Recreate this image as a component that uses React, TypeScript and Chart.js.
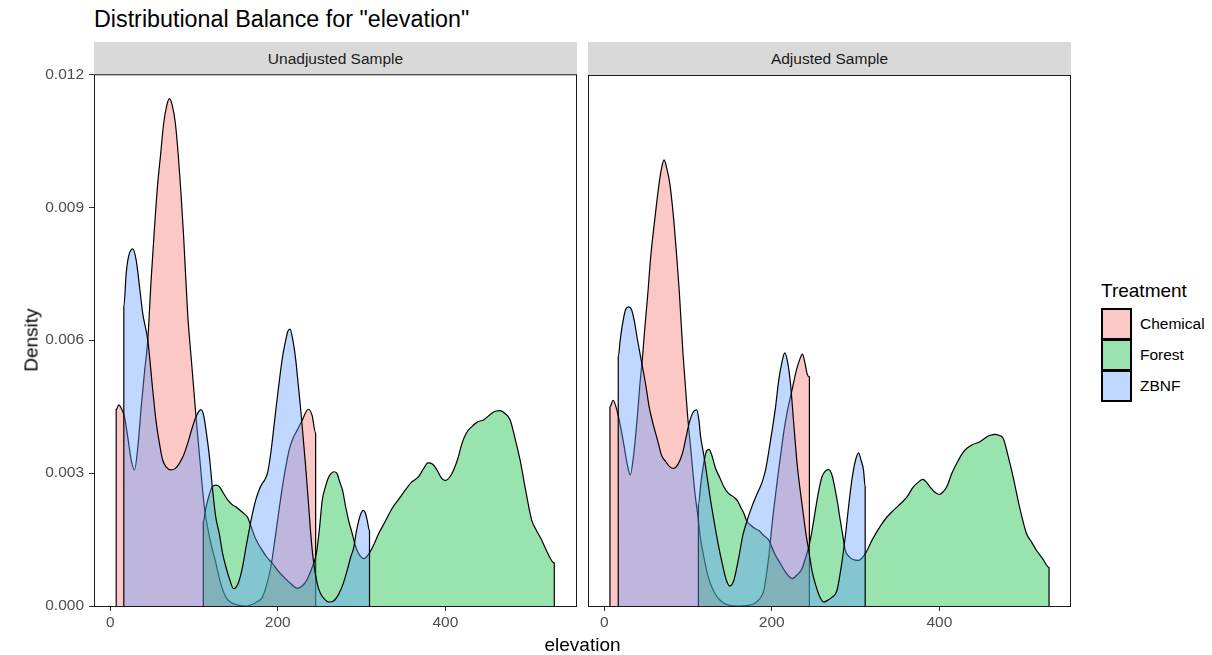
import { useEffect, useRef } from "react";
import { Chart, registerables } from "chart.js";

Chart.register(...registerables);

type Pt = [number, number];

// Treatment groups, in drawing order (ZBNF ends up on top).
const treatments = ["Chemical", "Forest", "ZBNF"];
const panelTitles = ["Unadjusted Sample", "Adjusted Sample"];

// Density curves, [elevation, density]; each group spans its own data range.
const unadjustedChemical: Pt[] = [
  [7.1, 0], [7.1, 0.00443], [10.2, 0.00454], [13.5, 0.00445], [17, 0.00427], [21, 0.0038],
  [25, 0.0033], [28.9, 0.00307], [33, 0.0036], [37, 0.0045], [41, 0.0053], [44.8, 0.006],
  [48.8, 0.00736], [52.7, 0.0085], [56.5, 0.0095], [59.9, 0.01015], [63.8, 0.0109], [67.5, 0.0113],
  [70.6, 0.01145], [74, 0.0113], [77.7, 0.0109], [81.3, 0.01015], [84.5, 0.0093], [87.6, 0.00834],
  [92.4, 0.0066], [97.5, 0.0054], [102.4, 0.00427], [107, 0.0033], [112.3, 0.00224], [118, 0.0016],
  [126.2, 0.00096], [132, 0.0005], [138, 0.0002], [146, 0.00006], [155, 0.00001], [163, 0],
  [170, 0.00004], [176, 0.0001], [181.7, 0.0002], [187, 0.0005], [191.7, 0.00088], [197.6, 0.00164],
  [205.5, 0.00269], [213.5, 0.00352], [218.5, 0.0038], [223.3, 0.00397], [229.3, 0.0042],
  [236.4, 0.00444], [241, 0.0043], [245.2, 0.0039], [245.2, 0],
];

const unadjustedForest: Pt[] = [
  [111.1, 0], [111.1, 0.0019], [114, 0.0022], [118, 0.0025], [122, 0.0027], [126.2, 0.00273],
  [130, 0.0027], [135, 0.00255], [140, 0.0024], [146, 0.00228], [150, 0.00224], [155, 0.00216],
  [160, 0.00208], [164, 0.002], [168, 0.0018], [174, 0.0015], [180, 0.0013], [187, 0.0011],
  [193.6, 0.00096], [200, 0.0008], [210, 0.0006], [217, 0.00048], [223.3, 0.0004], [229, 0.00045],
  [235, 0.0006], [241.2, 0.00088], [246, 0.00118], [249.5, 0.0017], [253.1, 0.00239], [257, 0.0027],
  [260.5, 0.0029], [264, 0.003], [267, 0.00303], [270.5, 0.003], [274, 0.0028], [277.5, 0.0026],
  [281, 0.00224], [285, 0.0019], [288.8, 0.00164], [292, 0.0014], [296, 0.0012], [302.7, 0.00107],
  [309.5, 0.0012], [315, 0.0014], [320.6, 0.00164], [328, 0.0019], [336.4, 0.0022], [344, 0.0024],
  [352.4, 0.00262], [360, 0.0028], [368.2, 0.00292], [374, 0.0031], [379.3, 0.00323], [385, 0.0032],
  [390, 0.00307], [395, 0.0029], [400, 0.00283], [405, 0.0029], [409.9, 0.00307], [414.5, 0.0033],
  [419.9, 0.00367], [425, 0.0039], [431.7, 0.00405], [438, 0.00415], [445.6, 0.0042], [455.5, 0.00435],
  [460.5, 0.0044], [465.5, 0.00441], [471, 0.00435], [477.4, 0.0042], [483, 0.0038], [489.3, 0.00329],
  [496, 0.0026], [503.1, 0.00194], [509, 0.0017], [515, 0.00149], [522, 0.0012], [530.1, 0.00097],
  [530.1, 0],
];

const unadjustedZbnf: Pt[] = [
  [16.2, 0], [16.2, 0.00676], [19, 0.0075], [22, 0.0079], [26.9, 0.00806], [31, 0.0078], [35, 0.0072],
  [38.8, 0.0066], [44.8, 0.006], [50.7, 0.00488], [54.5, 0.0042], [58.7, 0.00367], [62.5, 0.0033],
  [66.7, 0.00314], [72.6, 0.00307], [77.5, 0.0031], [82.5, 0.00322], [87.5, 0.0034], [92.4, 0.00367],
  [97.5, 0.004], [102.4, 0.00427], [108.3, 0.00443], [111.5, 0.0043], [114.3, 0.00397], [118.2, 0.0034],
  [122.2, 0.00262], [126, 0.002], [130.1, 0.00164], [134, 0.0012], [138.1, 0.00088], [142.5, 0.0006],
  [147.2, 0.00039], [152.5, 0.0005], [157.9, 0.00088], [161.8, 0.0013], [165.8, 0.00171], [169.8, 0.00209],
  [173.8, 0.0024], [177.7, 0.00262], [181, 0.00275], [184.5, 0.00285], [187.6, 0.00299], [190.5, 0.0033],
  [193.6, 0.00375], [197.5, 0.0044], [201.5, 0.00503], [205.5, 0.0056], [209.5, 0.006], [212, 0.0062],
  [214.6, 0.00625], [218, 0.006], [221.4, 0.00556], [224.4, 0.005], [227.4, 0.00443], [230.3, 0.0038],
  [233.3, 0.00314], [236.3, 0.0024], [239.3, 0.00164], [242, 0.00111], [247.2, 0.0005], [251, 0.00028],
  [255.1, 0.00017], [261, 0.00009], [267, 0.00012], [273, 0.00028], [278, 0.0005], [282.9, 0.00081],
  [287, 0.0011], [290.8, 0.00133], [294, 0.0017], [296.8, 0.00194], [299.5, 0.0021], [301.9, 0.00216],
  [304.5, 0.0021], [306.7, 0.00194], [309.5, 0.0017], [309.5, 0],
];

const adjustedChemical: Pt[] = [
  [6.8, 0], [6.8, 0.0045], [10.6, 0.00465], [14, 0.0045], [17.9, 0.0042], [21, 0.0039], [23.8, 0.0036],
  [27.5, 0.0032], [31, 0.00296], [35, 0.0034], [39.8, 0.00435], [42.5, 0.005], [45.7, 0.00563],
  [48.5, 0.0063], [51.7, 0.00699], [55.5, 0.0079], [60.7, 0.0088], [65.5, 0.00955], [68.5, 0.0099],
  [71.4, 0.01008], [74.5, 0.0099], [78.2, 0.00955], [82.6, 0.0088], [86.5, 0.0079], [89.6, 0.0071],
  [94, 0.0057], [99.3, 0.00435], [104, 0.0034], [108, 0.0026], [112, 0.002], [115.1, 0.0015],
  [119, 0.0011], [123.1, 0.00073], [129, 0.0004], [135, 0.0002], [143, 0.00006], [151, 0.00001],
  [160, 0], [170, 0.00001], [178.6, 0.00005], [185, 0.00015], [190.5, 0.00035], [193.5, 0.0007],
  [196.4, 0.00111], [200.4, 0.00186], [206.6, 0.00284], [210.5, 0.0034], [214.6, 0.00397],
  [218.5, 0.0044], [222, 0.0047], [225.5, 0.005], [229.4, 0.00533], [233, 0.00555], [236.5, 0.00569],
  [239.5, 0.0055], [242.1, 0.00525], [244.9, 0.00518], [244.9, 0],
];

const adjustedForest: Pt[] = [
  [112.4, 0], [112.4, 0.0023], [115.5, 0.0028], [118.5, 0.0032], [122, 0.0035], [125, 0.00354],
  [128.5, 0.0034], [133, 0.0031], [138, 0.0029], [142.9, 0.00269], [148, 0.00255], [154.8, 0.00246],
  [159, 0.00238], [162.7, 0.00224], [166.5, 0.0021], [170.7, 0.0019], [174.6, 0.00183], [180, 0.00175],
  [185, 0.0017], [190, 0.0016], [196.4, 0.00149], [203, 0.0012], [210.2, 0.00096], [217, 0.00075],
  [224.3, 0.00062], [230, 0.0007], [236.2, 0.00085], [240.5, 0.0011], [244.1, 0.00133], [248, 0.0017],
  [252, 0.00216], [256, 0.0026], [259.9, 0.00292], [264, 0.00305], [267.9, 0.00308], [272, 0.00295],
  [275.8, 0.00262], [278.8, 0.0023], [281.7, 0.00194], [284.7, 0.0016], [287.7, 0.00126], [292, 0.00112],
  [297, 0.00105], [303.6, 0.00103], [311.5, 0.00118], [320, 0.0015], [329.4, 0.0018], [337, 0.002],
  [345.2, 0.00216], [353, 0.0023], [361.2, 0.00246], [369, 0.00269], [375, 0.0028], [380.2, 0.00286],
  [384.5, 0.0028], [388.9, 0.00269], [394, 0.00258], [400, 0.00252], [404.5, 0.00258], [408.8, 0.00269],
  [415, 0.003], [422.6, 0.00329], [427.5, 0.00345], [432.6, 0.00356], [440, 0.00365], [448.5, 0.00371],
  [456.4, 0.00382], [461, 0.00386], [466.3, 0.00388], [471, 0.00386], [476.2, 0.00379], [482, 0.0034],
  [488.1, 0.00292], [495, 0.0023], [504, 0.00164], [510, 0.00145], [515.9, 0.00126], [523, 0.00108],
  [531, 0.00087], [531, 0],
];

const adjustedZbnf: Pt[] = [
  [16.7, 0], [16.7, 0.00563], [19, 0.006], [21.9, 0.00638], [25.5, 0.0067], [29, 0.00676], [32.5, 0.0067],
  [35.7, 0.00646], [39.8, 0.006], [45.7, 0.0054], [49.5, 0.005], [53.6, 0.0045], [58.5, 0.0041],
  [63.6, 0.00375], [68.5, 0.0034], [73.5, 0.00326], [78, 0.00315], [82.6, 0.00311], [88, 0.0032],
  [93.3, 0.00345], [97.5, 0.0038], [101.2, 0.00412], [106, 0.00438], [110.4, 0.00443], [113, 0.0042],
  [115.1, 0.00382], [118, 0.0035], [121.1, 0.00314], [126, 0.0025], [130.9, 0.00194], [136, 0.0014],
  [140.9, 0.00096], [145.5, 0.0006], [150, 0.00045], [155, 0.0006], [160.7, 0.00111], [165.5, 0.0016],
  [170.7, 0.00194], [174.6, 0.00216], [179.5, 0.0024], [184.5, 0.00262], [188.5, 0.0028], [192.5, 0.00307],
  [196.5, 0.0035], [200.4, 0.00397], [204.5, 0.0045], [208.3, 0.0051], [212, 0.0055], [215.5, 0.00572],
  [219, 0.0055], [222.3, 0.00503], [226.3, 0.0041], [230.2, 0.00322], [234, 0.0026], [238.1, 0.00201],
  [241, 0.0016], [244.1, 0.00126], [248, 0.0008], [252, 0.0005], [257, 0.00022], [261.9, 0.00009],
  [266, 0.00012], [272, 0.0002], [277.8, 0.00035], [283, 0.0009], [287.7, 0.00156], [292, 0.0023],
  [296, 0.0029], [300, 0.0033], [303.6, 0.00346], [306.5, 0.0033], [309.5, 0.00307], [311.5, 0.0027],
  [311.5, 0],
];

const unadjustedSeries = [unadjustedChemical, unadjustedForest, unadjustedZbnf];
const adjustedSeries = [adjustedChemical, adjustedForest, adjustedZbnf];

const xTickValues = [0, 200, 400];
const yTickValues = [0, 0.003, 0.006, 0.009, 0.012];
const xLimits = [-19.4, 557.2];
const yLimits = [0, 0.012];

// ggplot-like hue palette at 40% opacity
const fillColors = ["rgba(248,118,109,0.4)", "rgba(0,186,56,0.4)", "rgba(97,156,255,0.4)"];
const keyColors = ["rgb(252,200,197)", "rgb(153,227,175)", "rgb(192,215,255)"];

const FONT = "'Liberation Sans', Arial, Helvetica, sans-serif";

const panelBorder = {
  id: "panelBorder",
  afterDatasetsDraw(chart: any) {
    const { ctx, chartArea: a } = chart;
    ctx.save();
    ctx.strokeStyle = "#1a1a1a";
    ctx.lineWidth = 1;
    ctx.strokeRect(a.left + 0.5, a.top + 0.5, a.right - a.left - 1, a.bottom - a.top);
    ctx.restore();
  },
};

type PanelProps = {
  series: Pt[][];
  showYAxis: boolean;
  left: number;
  top: number;
  width: number;
  height: number;
  padLeft: number;
  padRight: number;
};

function DensityPanel({ series, showYAxis, left, top, width, height, padLeft, padRight }: PanelProps) {
  const ref = useRef<HTMLCanvasElement | null>(null);

  useEffect(() => {
    if (!ref.current) return;
    const chart = new Chart(ref.current, {
      type: "line",
      data: {
        datasets: treatments.map((name, i) => ({
          label: name,
          data: series[i].map(([x, y]) => ({ x, y })),
          fill: "origin",
          backgroundColor: fillColors[i],
          borderColor: "#000000",
          borderWidth: 1.2,
          pointRadius: 0,
          cubicInterpolationMode: "monotone" as const,
          order: treatments.length - 1 - i,
        })),
      },
      options: {
        animation: false,
        responsive: false,
        events: [],
        layout: { padding: { left: padLeft, right: padRight, top: 5, bottom: 0 } },
        plugins: {
          legend: { display: false },
          tooltip: { enabled: false },
        },
        scales: {
          x: {
            type: "linear",
            min: xLimits[0],
            max: xLimits[1],
            afterBuildTicks: (s: any) => {
              s.ticks = xTickValues.map((v) => ({ value: v }));
            },
            afterFit: (s: any) => {
              s.height = 49;
            },
            grid: { drawOnChartArea: false, drawTicks: true, tickLength: 5, tickColor: "#333333", lineWidth: 1 },
            border: { display: false },
            ticks: {
              color: "#4d4d4d",
              font: { family: FONT, size: 15.5 },
              padding: 2,
              maxRotation: 0,
              autoSkip: false,
              callback: (v: any) => String(v),
            },
          },
          y: {
            type: "linear",
            display: showYAxis,
            min: yLimits[0],
            max: yLimits[1],
            afterBuildTicks: (s: any) => {
              s.ticks = yTickValues.map((v) => ({ value: v }));
            },
            afterFit: (s: any) => {
              if (showYAxis) s.width = 94;
            },
            grid: { drawOnChartArea: false, drawTicks: true, tickLength: 5, tickColor: "#333333", lineWidth: 1 },
            border: { display: false },
            ticks: {
              color: "#4d4d4d",
              font: { family: FONT, size: 15.5 },
              padding: 5,
              autoSkip: false,
              callback: (v: any) => Number(v).toFixed(3),
            },
          },
        },
      },
      plugins: [panelBorder],
    });
    return () => chart.destroy();
  }, [series, showYAxis, padLeft, padRight]);

  return (
    <canvas
      ref={ref}
      width={width}
      height={height}
      style={{ position: "absolute", left, top, width, height }}
    />
  );
}

function Strip({ left, text }: { left: number; text: string }) {
  return (
    <div
      style={{
        position: "absolute",
        left,
        top: 42,
        width: 483,
        height: 33,
        background: "#d9d9d9",
        display: "flex",
        alignItems: "center",
        justifyContent: "center",
        fontFamily: FONT,
        fontSize: 15.5,
        color: "#1a1a1a",
      }}
    >
      {text}
    </div>
  );
}

export default function App() {
  return (
    <div
      style={{
        position: "absolute",
        left: 0,
        top: 0,
        width: 1212,
        height: 655,
        background: "#ffffff",
        fontFamily: FONT,
        overflow: "hidden",
      }}
    >
      <div style={{ position: "absolute", left: 94, top: 8, fontSize: 23.3, lineHeight: 1, color: "#000", whiteSpace: "nowrap" }}>
        {'Distributional Balance for "elevation"'}
      </div>

      <Strip left={94} text={panelTitles[0]} />
      <Strip left={588} text={panelTitles[1]} />

      <DensityPanel series={unadjustedSeries} showYAxis={true} left={0} top={60} width={582} height={595} padLeft={0} padRight={5} />
      <DensityPanel series={adjustedSeries} showYAxis={false} left={582} top={70} width={495} height={585} padLeft={6} padRight={6} />

      <div
        style={{
          position: "absolute",
          left: 31,
          top: 340,
          transform: "translate(-50%, -50%) rotate(-90deg)",
          fontSize: 19,
          lineHeight: 1,
          color: "#000",
          whiteSpace: "nowrap",
        }}
      >
        Density
      </div>
      <div
        style={{
          position: "absolute",
          left: 582.5,
          top: 635,
          transform: "translateX(-50%)",
          fontSize: 19,
          lineHeight: 1,
          color: "#000",
          whiteSpace: "nowrap",
        }}
      >
        elevation
      </div>

      <div style={{ position: "absolute", left: 1101, top: 280.5, fontSize: 19, lineHeight: 1, color: "#000" }}>
        Treatment
      </div>
      {treatments.map((name, i) => (
        <div key={name}>
          <div
            style={{
              position: "absolute",
              left: 1101,
              top: 308 + i * 31,
              width: 31,
              height: 32,
              boxSizing: "border-box",
              background: keyColors[i],
              border: "2px solid #000",
            }}
          />
          <div
            style={{
              position: "absolute",
              left: 1140,
              top: 308 + i * 31,
              height: 32,
              display: "flex",
              alignItems: "center",
              fontSize: 15.5,
              color: "#000",
              whiteSpace: "nowrap",
            }}
          >
            {name}
          </div>
        </div>
      ))}
    </div>
  );
}
